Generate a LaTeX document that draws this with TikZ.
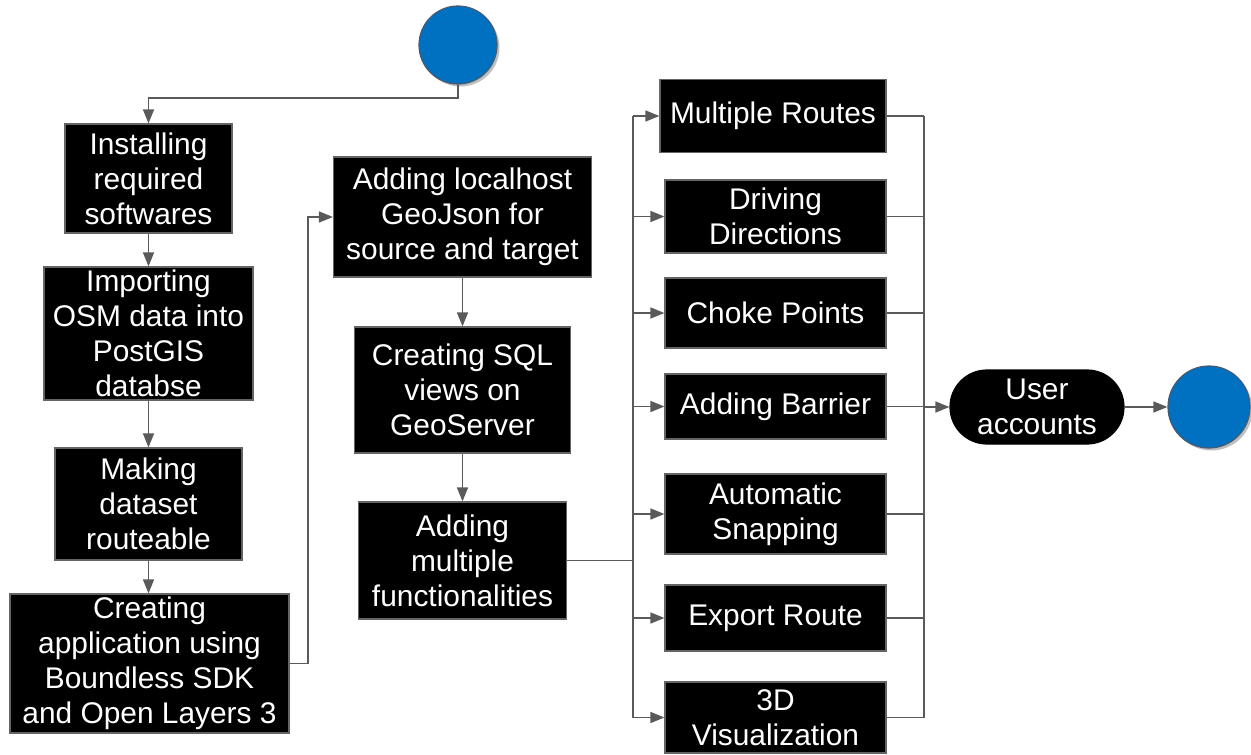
\documentclass[tikz,border=0pt]{standalone}
\usepackage{fontspec}
\setmainfont{Liberation Sans}
\usetikzlibrary{arrows.meta,positioning}
\definecolor{linegray}{RGB}{90,90,90}
\definecolor{boxedge}{RGB}{100,100,100}
\definecolor{startblue}{RGB}{0,112,192}
\definecolor{circedge}{RGB}{70,90,115}
\tikzset{
  box/.style={draw=boxedge, line width=1.2bp, fill=black, text=white, inner sep=0pt, align=center,
    font=\fontsize{30}{35}\selectfont},
  pill/.style={box, draw=black, rounded corners=37bp},
  termcirc/.style={circle, draw=circedge, line width=1.2bp, fill=startblue, inner sep=0pt},
  conn/.style={draw=linegray, line width=1.5bp},
  arr/.style={conn, -{Triangle[length=14bp,width=11bp]}, color=linegray},
}
\begin{document}
\begin{tikzpicture}[x=1bp,y=-1bp]
\useasboundingbox (0,0) rectangle (1251,755);
% shadows for circles
\fill[black!25] (460.5,47.5) circle (39);
\fill[black!25] (1211.5,409.5) circle (41);
\node[termcirc, minimum size=78bp] (start) at (458,45) {};
\node[termcirc, minimum size=82bp] (stop) at (1209,407) {};

\node[box, minimum width=167bp, minimum height=109bp] (b1) at (148.5,178.5) {Installing\\required\\softwares};
\node[box, minimum width=209bp, minimum height=133bp] (b2) at (148.5,333.5) {Importing\\OSM data into\\PostGIS\\databse};
\node[box, minimum width=187bp, minimum height=112bp] (b3) at (148.5,504) {Making\\dataset\\routeable};
\node[box, minimum width=279bp, minimum height=139bp] (b4) at (149.5,663.5) {Creating\\application using\\Boundless SDK\\and Open Layers 3};
\node[box, minimum width=258bp, minimum height=120bp] (b5) at (462.5,217) {Adding localhost\\GeoJson for\\source and target};
\node[box, minimum width=216bp, minimum height=126bp] (b6) at (462.5,390) {Creating SQL\\views on\\GeoServer};
\node[box, minimum width=208bp, minimum height=117bp] (b7) at (462.5,560.5) {Adding\\multiple\\functionalities};

\node[box, minimum width=226bp, minimum height=73bp] (r1) at (773,116) {Multiple Routes};
\node[box, minimum width=221bp, minimum height=73bp] (r2) at (775.5,216.5) {Driving\\Directions};
\node[box, minimum width=221bp, minimum height=70bp] (r3) at (775.5,313) {Choke Points};
\node[box, minimum width=221bp, minimum height=65bp] (r4) at (775.5,406.5) {Adding Barrier};
\node[box, minimum width=221bp, minimum height=80bp] (r5) at (775.5,514) {Automatic\\Snapping};
\node[box, minimum width=221bp, minimum height=66bp] (r6) at (775.5,618) {Export Route};
\node[box, minimum width=221bp, minimum height=71bp] (r7) at (775.5,717.5) {3D\\Visualization};

\node[pill, minimum width=174bp, minimum height=74bp] (ua) at (1037,407) {User\\accounts};

\coordinate (j0) at (148.5,98);
\coordinate (j1) at (308,0);
\coordinate (busL) at (633,0);
\coordinate (busR) at (924,0);

% left column
\draw[arr] (start.south) |- (j0) -- (b1.north);
\draw[arr] (b1.south) -- (b2.north);
\draw[arr] (b2.south) -- (b3.north);
\draw[arr] (b3.south) -- (b3.south |- b4.north);
\draw[arr] (b4.east) -- (b4.east -| j1) |- (b5.west);
\draw[arr] (b5.south) -- (b6.north);
\draw[arr] (b6.south) -- (b7.north);

% fan out
\draw[conn] (b7.east) -- (b7.east -| busL);
\draw[conn] (busL |- r1.west) -- (busL |- r7.west);
\foreach \r in {r1,r2,r3,r4,r5,r6,r7} {
  \draw[arr] (busL |- \r.west) -- (\r.west);
  \draw[conn] (\r.east) -- (\r.east -| busR);
}
\draw[conn] (busR |- r1.east) -- (busR |- r7.east);
\draw[arr] (busR |- ua.west) -- (ua.west);
\draw[arr] (ua.east) -- (stop.west);
\end{tikzpicture}
\end{document}
